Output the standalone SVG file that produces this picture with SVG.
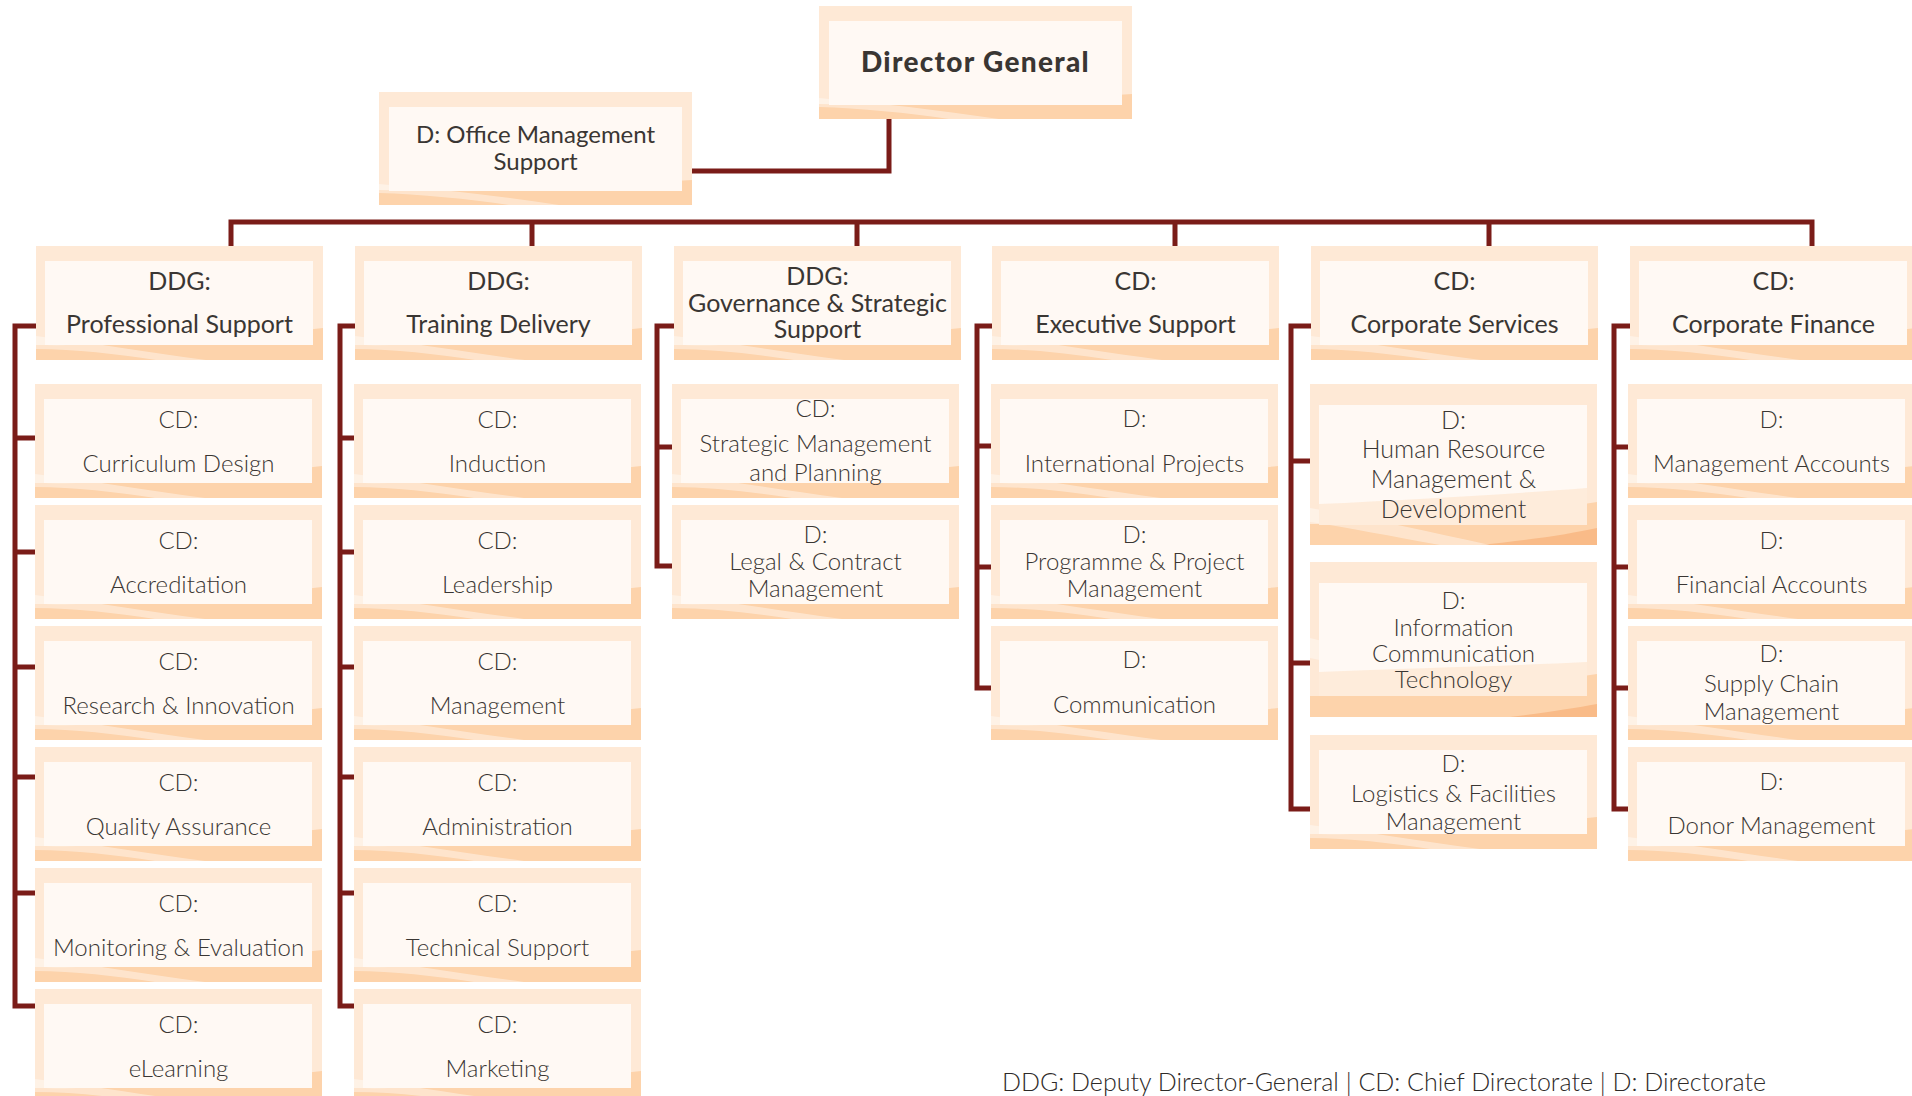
<svg xmlns="http://www.w3.org/2000/svg" xmlns:xlink="http://www.w3.org/1999/xlink" width="1912" height="1096" viewBox="0 0 1912 1096">
<style>
.o{fill:#fee9d6}
.b{fill:#fdd3ab}
.s{fill:#fff;opacity:.4}
.i{fill:#fff9f4}
.t{font-family:Lato,"Liberation Sans",sans-serif;fill:#3a3633;text-anchor:middle}
.h{font-size:25px;font-weight:400}
.c{font-size:24px;font-weight:300}
.dg{font-size:28px;font-weight:900;letter-spacing:1.3px}
.con{fill:none;stroke:#7a1c18;stroke-width:5;stroke-linejoin:miter}
.ft{font-family:Lato,"Liberation Sans",sans-serif;fill:#2e2a28;font-size:25px;font-weight:300}
</style>
<defs>
<g id="bx">
<rect width="287" height="114" class="o"/>
<path class="b" d="M0,99 C70,100 160,96 287,82 V114 H0Z"/>
<path class="s" d="M0,90 C50,96 110,106 170,114 H120 C80,108 40,103 0,103Z"/>
<rect x="9" y="15" width="268" height="84" class="i"/>
</g>
<g id="bxw">
<rect width="313" height="113" class="o"/>
<path class="b" d="M0,98 C80,99 180,96 313,88 V113 H0Z"/>
<path class="s" d="M0,92 C60,97 120,104 180,113 H130 C90,107 40,102 0,101Z"/>
<rect x="10" y="15" width="293" height="84" class="i"/>
</g>
</defs>

<g id="connectors">
<path class="con" d="M889,119 V171 H692"/>
<path class="con" d="M231,248 V222 H1812 V248 M532,222 V248 M857,222 V248 M1175,222 V248 M1489,222 V248"/>
<path class="con" d="M38,326 H15 V1006 H37 M15,438 H37 M15,552 H37 M15,667 H37 M15,777 H37 M15,893 H37"/>
<path class="con" d="M357,326 H340 V1006 H356 M340,438 H356 M340,552 H356 M340,667 H356 M340,777 H356 M340,893 H356"/>
<path class="con" d="M676,326 H657 V566 H674 M657,447 H674"/>
<path class="con" d="M994,326 H977 V688 H993 M977,446 H993 M977,567 H993"/>
<path class="con" d="M1313,326 H1291 V809 H1312 M1291,461 H1312 M1291,663 H1312"/>
<path class="con" d="M1632,326 H1614 V809 H1630 M1614,447 H1630 M1614,567 H1630 M1614,688 H1630"/>
</g>

<g id="dg" transform="translate(819,6)"><use xlink:href="#bxw"/><text class="t dg" x="156.5" y="66">Director General</text></g>
<g id="oms" transform="translate(379,92)"><use xlink:href="#bxw"/><text class="t h" x="156.5" y="51" style="font-size:24px">D: Office Management</text><text class="t h" x="156.5" y="78" style="font-size:24px">Support</text></g>

<g id="ddg-ps" transform="translate(36,246)"><use xlink:href="#bx"/><text class="t h" x="143.5" y="44">DDG:</text><text class="t h" x="143.5" y="87">Professional Support</text></g>
<g id="cd-curriculum" transform="translate(35,384)"><use xlink:href="#bx"/><text class="t c" x="143.5" y="44">CD:</text><text class="t c" x="143.5" y="88">Curriculum Design</text></g>
<g id="cd-accreditation" transform="translate(35,505)"><use xlink:href="#bx"/><text class="t c" x="143.5" y="44">CD:</text><text class="t c" x="143.5" y="88">Accreditation</text></g>
<g id="cd-research" transform="translate(35,626)"><use xlink:href="#bx"/><text class="t c" x="143.5" y="44">CD:</text><text class="t c" x="143.5" y="88">Research &amp; Innovation</text></g>
<g id="cd-quality" transform="translate(35,747)"><use xlink:href="#bx"/><text class="t c" x="143.5" y="44">CD:</text><text class="t c" x="143.5" y="88">Quality Assurance</text></g>
<g id="cd-monitoring" transform="translate(35,868)"><use xlink:href="#bx"/><text class="t c" x="143.5" y="44">CD:</text><text class="t c" x="143.5" y="88">Monitoring &amp; Evaluation</text></g>
<g id="cd-elearning" transform="translate(35,989)"><use xlink:href="#bx"/><text class="t c" x="143.5" y="44">CD:</text><text class="t c" x="143.5" y="88">eLearning</text></g>

<g id="ddg-td" transform="translate(355,246)"><use xlink:href="#bx"/><text class="t h" x="143.5" y="44">DDG:</text><text class="t h" x="143.5" y="87">Training Delivery</text></g>
<g id="cd-induction" transform="translate(354,384)"><use xlink:href="#bx"/><text class="t c" x="143.5" y="44">CD:</text><text class="t c" x="143.5" y="88">Induction</text></g>
<g id="cd-leadership" transform="translate(354,505)"><use xlink:href="#bx"/><text class="t c" x="143.5" y="44">CD:</text><text class="t c" x="143.5" y="88">Leadership</text></g>
<g id="cd-management" transform="translate(354,626)"><use xlink:href="#bx"/><text class="t c" x="143.5" y="44">CD:</text><text class="t c" x="143.5" y="88">Management</text></g>
<g id="cd-administration" transform="translate(354,747)"><use xlink:href="#bx"/><text class="t c" x="143.5" y="44">CD:</text><text class="t c" x="143.5" y="88">Administration</text></g>
<g id="cd-technical" transform="translate(354,868)"><use xlink:href="#bx"/><text class="t c" x="143.5" y="44">CD:</text><text class="t c" x="143.5" y="88">Technical Support</text></g>
<g id="cd-marketing" transform="translate(354,989)"><use xlink:href="#bx"/><text class="t c" x="143.5" y="44">CD:</text><text class="t c" x="143.5" y="88">Marketing</text></g>

<g id="ddg-gss" transform="translate(674,246)"><use xlink:href="#bx"/><text class="t h" x="143.5" y="39">DDG:</text><text class="t h" x="143.5" y="66">Governance &amp; Strategic</text><text class="t h" x="143.5" y="92">Support</text></g>
<g id="cd-strategic" transform="translate(672,384)"><use xlink:href="#bx"/><text class="t c" x="143.5" y="33">CD:</text><text class="t c" x="143.5" y="68">Strategic Management</text><text class="t c" x="143.5" y="97">and Planning</text></g>
<g id="d-legal" transform="translate(672,505)"><use xlink:href="#bx"/><text class="t c" x="143.5" y="38">D:</text><text class="t c" x="143.5" y="65">Legal &amp; Contract</text><text class="t c" x="143.5" y="92">Management</text></g>

<g id="cd-es" transform="translate(992,246)"><use xlink:href="#bx"/><text class="t h" x="143.5" y="44">CD:</text><text class="t h" x="143.5" y="87">Executive Support</text></g>
<g id="d-international" transform="translate(991,384)"><use xlink:href="#bx"/><text class="t c" x="143.5" y="43">D:</text><text class="t c" x="143.5" y="88">International Projects</text></g>
<g id="d-programme" transform="translate(991,505)"><use xlink:href="#bx"/><text class="t c" x="143.5" y="38">D:</text><text class="t c" x="143.5" y="65">Programme &amp; Project</text><text class="t c" x="143.5" y="92">Management</text></g>
<g id="d-communication" transform="translate(991,626)"><use xlink:href="#bx"/><text class="t c" x="143.5" y="42">D:</text><text class="t c" x="143.5" y="87">Communication</text></g>

<g id="cd-cs" transform="translate(1311,246)"><use xlink:href="#bx"/><text class="t h" x="143.5" y="44">CD:</text><text class="t h" x="143.5" y="87">Corporate Services</text></g>
<g id="d-hr" transform="translate(1310,384)">
<rect width="287" height="161" class="o"/>
<path class="b" d="M0,140 C80,141 170,136 287,118 V161 H0Z"/>
<path fill="#f9bb88" d="M170,161 C220,156 260,150 287,144 V161Z"/>
<path class="s" d="M0,124 C60,134 120,148 180,161 H130 C80,152 40,144 0,138Z"/>
<rect x="9" y="21" width="268" height="120" class="i"/>
<path fill="#fdd3ab" opacity=".35" d="M9,120 C100,116 200,110 277,104 V141 H9Z"/>
<text class="t c" x="143.5" y="45" style="font-size:25px">D:</text><text class="t c" x="143.5" y="74" style="font-size:25px">Human Resource</text><text class="t c" x="143.5" y="104" style="font-size:25px">Management &amp;</text><text class="t c" x="143.5" y="134" style="font-size:25px">Development</text></g>
<g id="d-ict" transform="translate(1310,562)">
<rect width="287" height="155" class="o"/>
<path class="b" d="M0,134 C80,135 170,130 287,112 V155 H0Z"/>
<path fill="#f9bb88" d="M200,155 C240,150 265,146 287,142 V155Z"/>
<path class="s" d="M0,76 C60,90 120,110 190,134 H140 C90,118 40,104 0,96Z"/>
<rect x="9" y="21" width="268" height="113" class="i"/>
<path fill="#fdd3ab" opacity=".35" d="M9,110 C100,106 200,104 277,100 V134 H9Z"/>
<text class="t c" x="143.5" y="47">D:</text><text class="t c" x="143.5" y="74">Information</text><text class="t c" x="143.5" y="100">Communication</text><text class="t c" x="143.5" y="126">Technology</text></g>
<g id="d-logistics" transform="translate(1310,735)"><use xlink:href="#bx"/><text class="t c" x="143.5" y="37">D:</text><text class="t c" x="143.5" y="67">Logistics &amp; Facilities</text><text class="t c" x="143.5" y="95">Management</text></g>

<g id="cd-cf" transform="translate(1630,246)"><use xlink:href="#bx"/><text class="t h" x="143.5" y="44">CD:</text><text class="t h" x="143.5" y="87">Corporate Finance</text></g>
<g id="d-mgmt-accounts" transform="translate(1628,384)"><use xlink:href="#bx"/><text class="t c" x="143.5" y="44">D:</text><text class="t c" x="143.5" y="88">Management Accounts</text></g>
<g id="d-fin-accounts" transform="translate(1628,505)"><use xlink:href="#bx"/><text class="t c" x="143.5" y="44">D:</text><text class="t c" x="143.5" y="88">Financial Accounts</text></g>
<g id="d-supply" transform="translate(1628,626)"><use xlink:href="#bx"/><text class="t c" x="143.5" y="36">D:</text><text class="t c" x="143.5" y="66">Supply Chain</text><text class="t c" x="143.5" y="94">Management</text></g>
<g id="d-donor" transform="translate(1628,747)"><use xlink:href="#bx"/><text class="t c" x="143.5" y="43">D:</text><text class="t c" x="143.5" y="87">Donor Management</text></g>

<text class="ft" x="1384" y="1091" text-anchor="middle">DDG: Deputy Director-General | CD: Chief Directorate | D: Directorate</text>
</svg>
